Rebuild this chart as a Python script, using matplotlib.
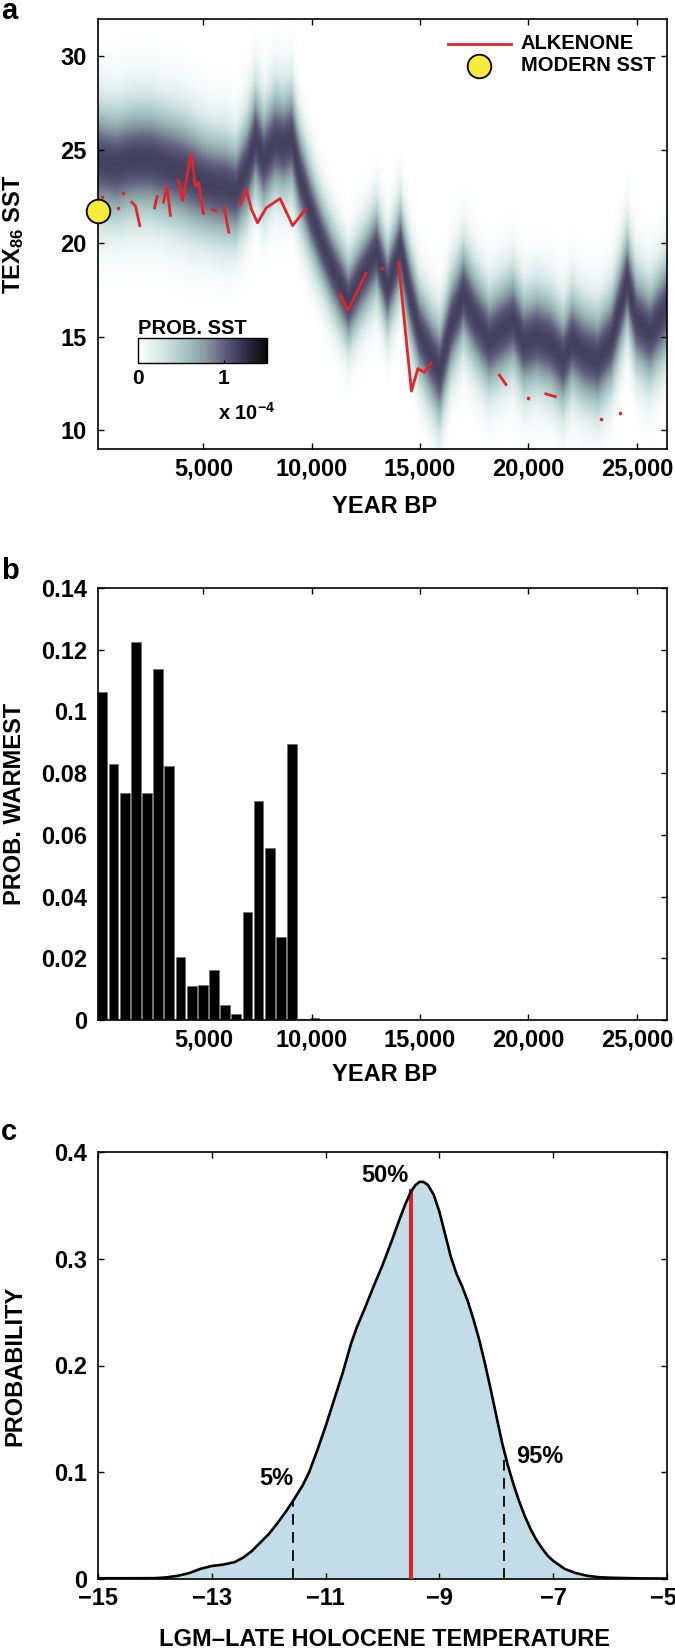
import numpy as np
import matplotlib
matplotlib.use("Agg")
import matplotlib.pyplot as plt
from matplotlib.colors import LinearSegmentedColormap
from matplotlib.ticker import FuncFormatter
from matplotlib.transforms import ScaledTranslation

plt.rcParams["font.family"] = ["Liberation Sans", "DejaVu Sans"]
plt.rcParams["font.weight"] = "bold"
plt.rcParams["axes.labelweight"] = "bold"
plt.rcParams["mathtext.fontset"] = "custom"
plt.rcParams["mathtext.rm"] = "Liberation Sans:bold"
plt.rcParams["mathtext.bf"] = "Liberation Sans:bold"
plt.rcParams["mathtext.default"] = "rm"

# ---- panel a: TEX86 SST probability band (centre + spread)
sst_years = [140, 500, 1000, 1500, 2000, 2500, 3000, 3500, 4000, 4500, 5000, 5500,
             6000, 6500, 7000, 7400, 7800, 8300, 8700, 9100, 9500, 10000, 10500,
             11000, 11700, 12200, 12600, 13000, 13500, 14100, 14600, 15000, 15600,
             15900, 16400, 17000, 17600, 18200, 18800, 19300, 19800, 20400, 21000,
             21600, 22000, 22600, 23200, 23800, 24560, 25000, 25600, 26390]
sst_median = [24.4, 24.3, 24.2, 24.4, 24.5, 24.5, 24.3, 24.1, 23.9, 23.6, 23.3, 23.1,
              23.0, 22.8, 24.0, 25.6, 24.5, 25.5, 25.3, 25.6, 23.5, 21.6, 20.0,
              18.6, 16.9, 18.0, 18.8, 19.6, 17.7, 19.8, 17.0, 15.2, 13.8,
              13.2, 15.6, 17.3, 15.9, 14.8, 15.4, 15.9, 14.7, 15.0, 14.7,
              13.8, 14.8, 14.1, 13.8, 14.8, 18.1, 15.9, 15.2, 16.6]
sst_sigma = [2.1, 2.1, 2.1, 2.1, 2.1, 2.1, 2.1, 2.1, 2.1, 2.1, 2.0, 2.0,
             2.0, 1.9, 2.0, 2.0, 2.0, 2.0, 2.0, 2.0, 1.9, 1.8, 1.7,
             1.7, 1.7, 1.7, 1.7, 1.75, 1.75, 1.8, 1.8, 1.8, 1.9,
             2.0, 1.9, 1.9, 1.9, 1.9, 1.9, 1.9, 1.9, 1.9, 1.9,
             1.9, 1.9, 1.9, 1.9, 1.9, 1.9, 1.9, 1.9, 1.9]
peak_prob = 1.15e-4

nan = np.nan
alk_years = [320, nan, 1080, nan, 1290, nan, 1700, 1870, 2070, nan, 2750, 2870, nan,
             3160, 3320, 3480, nan, 3850, 4040, 4440, 4630, 4780, 5000, nan,
             5420, 5570, nan, 5960, 6170, nan, 6700, 6980, 7210, 7500, 7900, 8540,
             9120, 9730, nan, 11300, 11660, 12500, nan, 13240, nan, 14000, 14600,
             14900, 15200, 15500, nan, 18660, 18960, nan, 20000, nan, 20800, 21240,
             nan, 23360, nan, 24240]
alk_values = [22.5, nan, 21.9, nan, 22.7, nan, 22.2, 22.0, 20.95, nan, 21.9, 22.5, nan,
              22.2, 23.05, 21.5, nan, 23.35, 22.3, 24.8, 23.05, 23.25, 21.6, nan,
              21.8, 21.75, nan, 21.95, 20.6, nan, 22.1, 22.9, 21.85, 21.1, 21.9, 22.4,
              20.95, 21.85, nan, 17.3, 16.4, 18.4, nan, 18.7, nan, 19.0, 12.1,
              13.3, 13.1, 13.6, nan, 12.95, 12.45, nan, 11.75, nan, 11.95, 11.8,
              nan, 10.6, nan, 10.9]
modern_year = 140
modern_sst = 21.75

# ---- panel b: probability of being the warmest interval
bin_centers = [340, 855, 1370, 1885, 2400, 2915, 3430, 3945, 4460, 4975, 5490, 6005,
               6520, 7035, 7550, 8065, 8580, 9095, 9610, 10125]
warm_prob = [0.1063, 0.0830, 0.0737, 0.1225, 0.0737, 0.1138, 0.0823, 0.0204, 0.0111,
             0.0113, 0.0163, 0.0047, 0.0021, 0.0349, 0.0711, 0.0556, 0.0268, 0.0894,
             0.0002, 0.0006]

# ---- panel c: LGM - late Holocene temperature difference distribution
dT = [-15, -14.5, -14.0, -13.8, -13.6, -13.4, -13.2, -13.0, -12.8, -12.6, -12.45,
      -12.3, -12.15, -12.0, -11.85, -11.7, -11.55, -11.4, -11.29, -11.15, -11.0,
      -10.85, -10.7, -10.55, -10.45, -10.3, -10.15, -10.0, -9.85, -9.7, -9.6, -9.5,
      -9.42, -9.35, -9.28, -9.2, -9.1, -9.0, -8.9, -8.8, -8.7, -8.6, -8.5, -8.4,
      -8.3, -8.2, -8.1, -8.0, -7.9, -7.8, -7.7, -7.6, -7.5, -7.4, -7.3, -7.2, -7.1,
      -7.0, -6.8, -6.6, -6.4, -6.2, -6.0, -5.5, -5]
dT_prob = [0.0007, 0.0007, 0.0008, 0.0015, 0.003, 0.0055, 0.0095, 0.0122, 0.0135,
           0.0158, 0.02, 0.026, 0.034, 0.042, 0.052, 0.063, 0.075, 0.088, 0.1, 0.12,
           0.143, 0.168, 0.193, 0.221, 0.236, 0.255, 0.275, 0.294, 0.315, 0.337,
           0.351, 0.363, 0.369, 0.372, 0.372, 0.369, 0.36, 0.344, 0.323, 0.302,
           0.286, 0.274, 0.26, 0.243, 0.224, 0.202, 0.178, 0.153, 0.128, 0.107,
           0.089, 0.073, 0.059, 0.047, 0.037, 0.029, 0.022, 0.017, 0.0095, 0.0055,
           0.003, 0.0017, 0.0012, 0.0006, 0.0004]
q05, q50, q95 = -11.58, -9.5, -7.86

W, H = 675, 1652
fig = plt.figure(figsize=(W / 100, H / 100), dpi=100)


def box(l, t, r, b):
    return [l / W, 1 - b / H, (r - l) / W, (b - t) / H]


def style(ax):
    ax.tick_params(direction="in", length=4, width=1, top=True, right=True,
                   labelsize=17)
    ax.tick_params(axis="x", pad=6)
    ax.tick_params(axis="y", pad=8)
    for s in ax.spines.values():
        s.set_linewidth(1.2)


year_fmt = FuncFormatter(lambda v, p: f"{int(v):,}")
g_fmt = FuncFormatter(lambda v, p: f"{v:g}")
red = "#e0262b"

# ---------------- panel a
ax_a = fig.add_axes(box(98, 19, 667, 449))
cmap = LinearSegmentedColormap.from_list(
    "sst", [(0, "#ffffff"), (0.15, "#dcebea"), (0.3, "#b7d2d1"), (0.45, "#97b2b3"),
            (0.56, "#7f8b98"), (0.67, "#5f5d7d"), (0.8, "#3a3853"), (1, "#060608")])
yrs = np.array(sst_years, float)
mu = np.array(sst_median)
sg = np.array(sst_sigma)
k = np.linspace(-4.0, 4.0, 121)
X = np.broadcast_to(yrs, (k.size, yrs.size))
Y = mu[None, :] + k[:, None] * sg[None, :]
C = np.exp(-0.5 * k[:, None] ** 2) * peak_prob * np.ones_like(yrs)[None, :]
mesh = ax_a.pcolormesh(X, Y, C, shading="gouraud", cmap=cmap, vmin=0, vmax=1.5e-4,
                       rasterized=True)

ay = np.array(alk_years, float)
av = np.array(alk_values, float)
ax_a.plot(ay, av, color=red, lw=2, zorder=3)
prev_ok = np.isfinite(np.r_[nan, av[:-1]])
next_ok = np.isfinite(np.r_[av[1:], nan])
iso = np.isfinite(av) & ~prev_ok & ~next_ok
ax_a.plot(ay[iso], av[iso], "o", ms=2.6, color=red, mec="none", zorder=3)
ax_a.plot([modern_year], [modern_sst], "o", ms=17, mfc="#f6eb3a", mec="k", mew=1.3,
          clip_on=False, zorder=6)

ax_a.set_xlim(140, 26390)
ax_a.set_ylim(9, 32)
ax_a.set_xticks([5000, 10000, 15000, 20000, 25000])
ax_a.set_yticks([10, 15, 20, 25, 30])
ax_a.xaxis.set_major_formatter(year_fmt)
style(ax_a)
ax_a.set_xlabel("YEAR BP", fontsize=17)
ax_a.set_ylabel("TEX$_{86}$ SST", fontsize=17)
ax_a.xaxis.set_label_coords(0.504, -0.107)
ax_a.yaxis.set_label_coords(-0.126, 0.5)

# legend drawn by hand to match the tight layout
ax_a.plot([0.615, 0.726], [0.942, 0.942], color=red, lw=2, transform=ax_a.transAxes)
ax_a.plot([0.670], [0.891], "o", ms=17, mfc="#f6eb3a", mec="k", mew=1.3,
          transform=ax_a.transAxes)
ax_a.text(0.743, 0.942, "ALKENONE", transform=ax_a.transAxes, fontsize=14.5,
          va="center", ha="left")
ax_a.text(0.743, 0.891, "MODERN SST", transform=ax_a.transAxes, fontsize=14.5,
          va="center", ha="left")

cax = ax_a.inset_axes([0.0708, 0.1993, 0.2257, 0.0581])
cb = fig.colorbar(mesh, cax=cax, orientation="horizontal", ticks=[0, 1e-4])
cb.ax.set_xticklabels(["0", "1"])
cb.ax.tick_params(labelsize=15, length=2, direction="in", pad=4)
cb.outline.set_linewidth(1)
ax_a.text(0.0708, 0.281, "PROB. SST", transform=ax_a.transAxes, fontsize=14.5,
          va="center", ha="left")
ax_a.text(0.211, 0.0837, "x 10$^{-4}$", transform=ax_a.transAxes, fontsize=14.5,
          va="center", ha="left")

# ---------------- panel b
ax_b = fig.add_axes(box(98, 588, 667, 1020))
ax_b.bar(bin_centers, warm_prob, width=450, color="k", edgecolor="0.4", linewidth=0.4)
ax_b.set_xlim(140, 26390)
ax_b.set_ylim(0, 0.14)
ax_b.set_xticks([5000, 10000, 15000, 20000, 25000])
ax_b.set_yticks(np.arange(0, 0.141, 0.02))
ax_b.xaxis.set_major_formatter(year_fmt)
ax_b.yaxis.set_major_formatter(g_fmt)
style(ax_b)
ax_b.set_xlabel("YEAR BP", fontsize=17)
ax_b.set_ylabel("PROB. WARMEST", fontsize=17)
ax_b.xaxis.set_label_coords(0.504, -0.0995)
ax_b.yaxis.set_label_coords(-0.126, 0.5)

# ---------------- panel c
ax_c = fig.add_axes(box(98, 1152, 667, 1579))
ax_c.fill_between(dT, dT_prob, color="#c3dde8", lw=0)
ax_c.plot(dT, dT_prob, color="k", lw=1.9, zorder=4, solid_joinstyle="round")
ax_c.plot([q50, q50], [0, np.interp(q50, dT, dT_prob)], color="#d8282c", lw=3, zorder=3)
for q in (q05, q95):
    ln, = ax_c.plot([q, q], [0, np.interp(q, dT, dT_prob)], color="k", lw=1.3, zorder=3)
    ln.set_dashes((6, 4))
ax_c.text(-9.95, 0.378, "50%", fontsize=17, ha="center", va="center")
ax_c.text(-11.86, 0.0937, "5%", fontsize=17, ha="center", va="center")
ax_c.text(-7.23, 0.1147, "95%", fontsize=17, ha="center", va="center")
ax_c.set_xlim(-15, -5)
ax_c.set_ylim(0, 0.4)
ax_c.set_xticks([-15, -13, -11, -9, -7, -5])
ax_c.set_yticks([0, 0.1, 0.2, 0.3, 0.4])
ax_c.yaxis.set_major_formatter(g_fmt)
style(ax_c)
last = ax_c.get_xticklabels()[-1]
last.set_transform(last.get_transform() + ScaledTranslation(-4 / 100, 0, fig.dpi_scale_trans))
ax_c.set_xlabel("LGM\u2013LATE HOLOCENE TEMPERATURE", fontsize=17)
ax_c.set_ylabel("PROBABILITY", fontsize=17)
ax_c.xaxis.set_label_coords(0.504, -0.115)
ax_c.yaxis.set_label_coords(-0.126, 0.5)

# panel letters
for letter, base in (("a", 19), ("b", 579), ("c", 1140)):
    fig.text(1 / W, 1 - base / H, letter, fontsize=21, ha="left", va="baseline")

fig.savefig("out.png", dpi=100)
